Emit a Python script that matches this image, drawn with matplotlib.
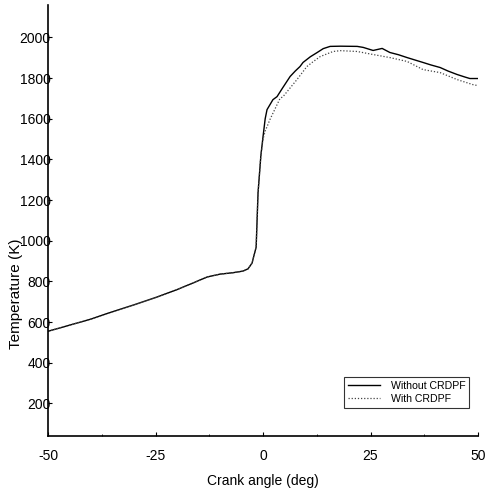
import matplotlib
matplotlib.use("Agg")
import matplotlib.pyplot as plt
from matplotlib.ticker import MultipleLocator

plt.rcParams['font.family'] = ['Liberation Sans', 'DejaVu Sans']
plt.rcParams['axes.unicode_minus'] = False

# Without CRDPF (solid)
ang_wo = [-50, -45, -40, -36.3, -30, -24.7, -20, -16, -13, -10, -7, -4.65, -3.5, -2.56,
          -1.6, -1.16, -0.5, 0, 0.5, 0.93, 2.3, 3.26, 4.5, 6.3, 7.5, 8.6, 9.3, 11, 12.6,
          14, 15.6, 18, 21.9, 23.3, 25.6, 27.7, 29.5, 31.5, 33.5, 35.5, 37.2, 39, 41.2,
          43, 45.1, 47, 48.1, 50]
temp_wo = [555, 585, 615, 642, 685, 723, 760, 795, 822, 836, 843, 851, 862, 890,
           969, 1236, 1420, 1512, 1600, 1645, 1694, 1709, 1750, 1808, 1835, 1857, 1877, 1905, 1926,
           1945, 1956, 1957, 1956, 1951, 1936, 1946, 1926, 1915, 1901, 1888, 1877, 1865, 1852,
           1835, 1818, 1805, 1798, 1798]

# With CRDPF (dotted)
ang_w = [-50, -45, -40, -36.3, -30, -24.7, -20, -16, -13, -10, -7, -4.65, -3.5, -2.56,
         -1.6, -1.16, -0.5, 0, 0.5, 0.93, 1.6, 3.95, 4.65, 7.9, 10.2, 11.6, 13.3, 16.3,
         18, 21.9, 25.6, 29.5, 33.5, 37.2, 41.2, 45.1, 48.8, 50]
temp_w = [555, 585, 615, 642, 685, 723, 760, 795, 822, 836, 843, 851, 862, 890,
          969, 1236, 1420, 1500, 1540, 1561, 1596, 1700, 1709, 1793, 1857, 1880, 1906, 1931,
          1935, 1931, 1916, 1901, 1882, 1842, 1827, 1793, 1768, 1763]

xticks = [-50, -25, 0, 25, 50]
yticks = [200, 400, 600, 800, 1000, 1200, 1400, 1600, 1800, 2000]

fig = plt.figure(figsize=(4.87, 4.91), dpi=100)
ax = fig.add_axes([0.0986, 0.112, 0.8830, 0.878])

ax.plot(ang_wo, temp_wo, color='black', lw=1.0, ls='-', label='Without CRDPF')
ax.plot(ang_w, temp_w, color='#444444', lw=0.9, ls=(0, (1, 1.5)), label='With CRDPF')

ax.set_xlim(-50, 50)
ax.set_ylim(40, 2160)
ax.set_xticks(xticks)
ax.set_yticks(yticks)
ax.xaxis.set_minor_locator(MultipleLocator(12.5))
ax.tick_params(axis='both', which='major', direction='in', length=3, width=0.8,
               labelsize=10, colors='black')
ax.tick_params(axis='x', which='major', pad=9)
ax.tick_params(axis='y', which='major', pad=-2)
ax.tick_params(axis='x', which='minor', direction='in', length=1.5, width=0.6)

for s in ['top', 'right']:
    ax.spines[s].set_visible(False)
for s in ['left', 'bottom']:
    ax.spines[s].set_linewidth(1.2)

ax.set_xlabel('Crank angle (deg)', fontsize=10, labelpad=8)
ax.set_ylabel('Temperature (K)', fontsize=11)
ax.yaxis.set_label_coords(-0.058, 0.33)

leg = ax.legend(loc='lower right', bbox_to_anchor=(0.98, 0.065), fontsize=7.6,
                frameon=True, fancybox=False, edgecolor='black', handlelength=3.0,
                borderpad=0.4, labelspacing=0.25, handletextpad=1.0, borderaxespad=0.0)
leg.get_frame().set_linewidth(0.8)

fig.savefig('out.png', dpi=100)
